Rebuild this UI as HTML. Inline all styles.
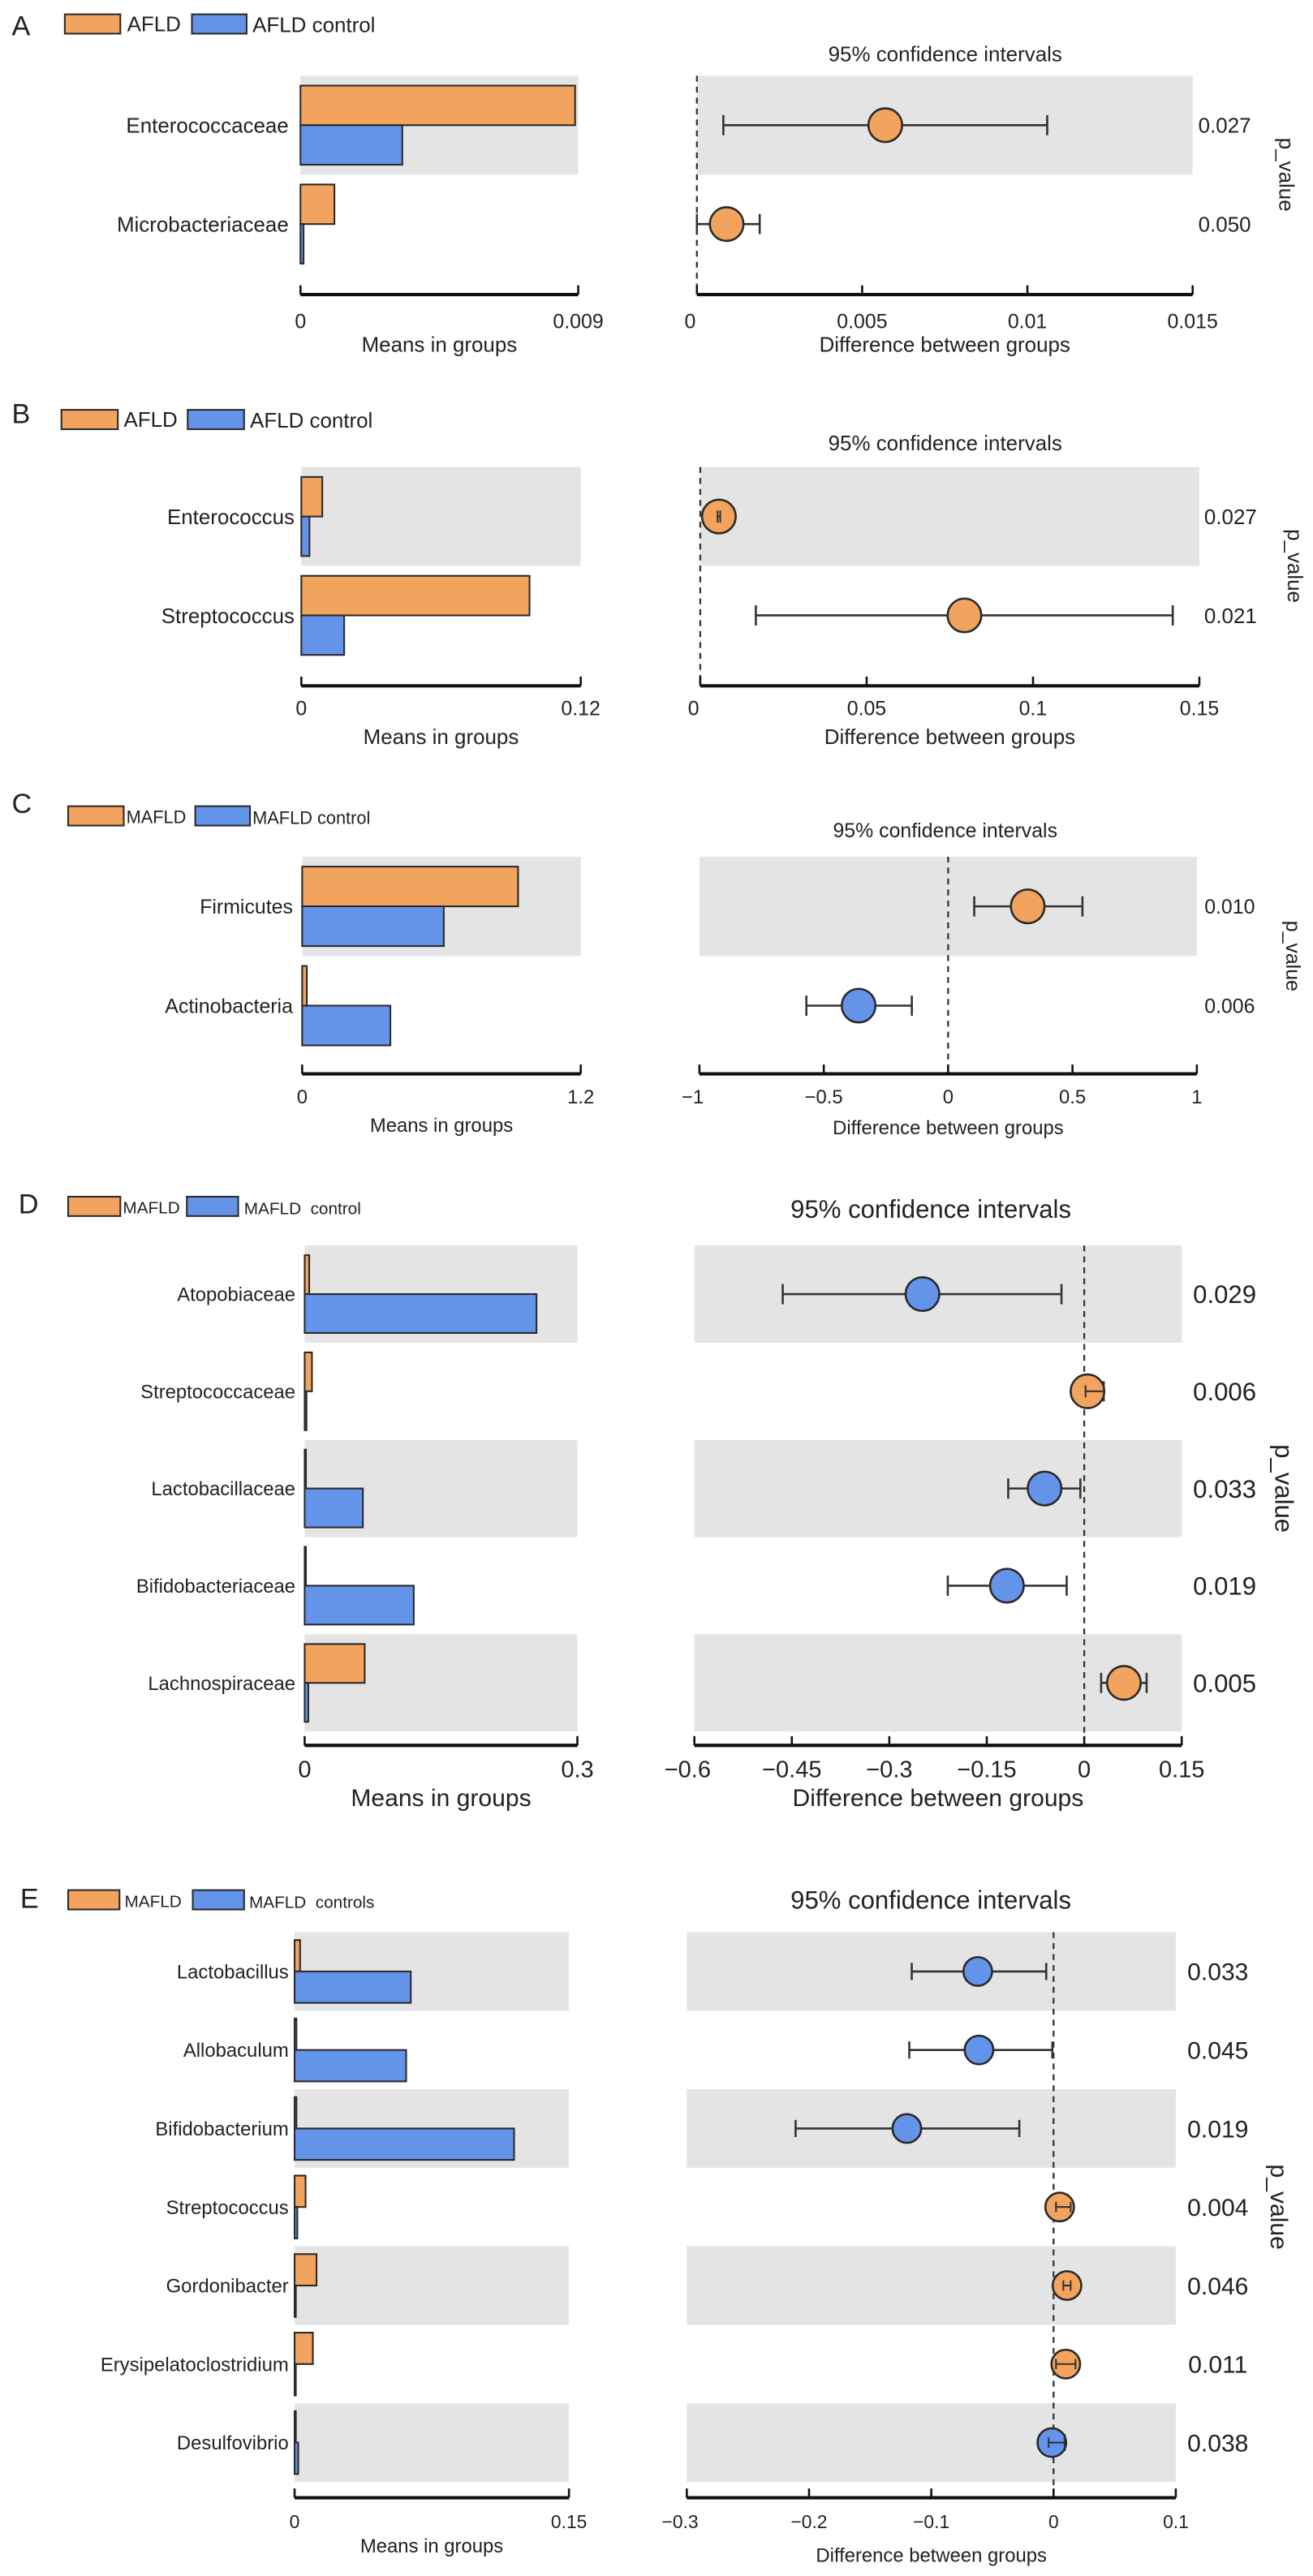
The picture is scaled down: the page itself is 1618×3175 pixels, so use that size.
<!DOCTYPE html>
<html><head><meta charset="utf-8"><style>
html,body{margin:0;padding:0;background:#fff}
svg{display:block}
text{font-family:"Liberation Sans",Arial,sans-serif;fill:#222}
</style></head><body>
<svg id="fig" width="1618" height="3175" viewBox="0 0 1560 3061" preserveAspectRatio="none" xmlns="http://www.w3.org/2000/svg">
<g>
<text x="14" y="42" font-size="33">A</text>
<text x="14" y="503" font-size="33">B</text>
<text x="14" y="966" font-size="33">C</text>
<text x="22" y="1442" font-size="33">D</text>
<text x="24" y="2267" font-size="33">E</text>
</g>
</svg>
<script>
// ---- Panel A data ----
const aCats=["Enterococcaceae","Microbacteriaceae"];
const aCase=[0.0089,0.0011];
const aCtrl=[0.0033,0.0001];
const aDiff=[0.0057,0.0009];
const aLo=[0.0008,0.0];
const aHi=[0.0106,0.0019];
const aP=["0.027","0.050"];
const aMeanTicks=[0,0.009];
const aMeanTickLabels=["0","0.009"];
const aDiffTicks=[0,0.005,0.01,0.015];
const aDiffTickLabels=["0","0.005","0.01","0.015"];
// ---- Panel B data ----
const bCats=["Enterococcus","Streptococcus"];
const bCase=[0.009,0.098];
const bCtrl=[0.0035,0.0184];
const bDiff=[0.0056,0.0794];
const bLo=[0.0052,0.0167];
const bHi=[0.006,0.142];
const bP=["0.027","0.021"];
const bMeanTicks=[0,0.12];
const bMeanTickLabels=["0","0.12"];
const bDiffTicks=[0,0.05,0.1,0.15];
const bDiffTickLabels=["0","0.05","0.1","0.15"];
// ---- Panel C data ----
const cCats=["Firmicutes","Actinobacteria"];
const cCase=[0.93,0.02];
const cCtrl=[0.61,0.38];
const cDiff=[0.32,-0.36];
const cLo=[0.105,-0.57];
const cHi=[0.54,-0.146];
const cP=["0.010","0.006"];
const cMeanTicks=[0,1.2];
const cMeanTickLabels=["0","1.2"];
const cDiffTicks=[-1,-0.5,0,0.5,1];
const cDiffTickLabels=["\u22121","\u22120.5","0","0.5","1"];
// ---- Panel D data ----
const dCats=["Atopobiaceae","Streptococcaceae","Lactobacillaceae","Bifidobacteriaceae","Lachnospiraceae"];
const dCase=[0.005,0.008,0.001,0.001,0.066];
const dCtrl=[0.255,0.002,0.064,0.12,0.004];
const dDiff=[-0.249,0.005,-0.061,-0.119,0.061];
const dLo=[-0.464,0.002,-0.117,-0.21,0.026];
const dHi=[-0.035,0.03,-0.006,-0.027,0.096];
const dP=["0.029","0.006","0.033","0.019","0.005"];
const dMeanTicks=[0,0.3];
const dMeanTickLabels=["0","0.3"];
const dDiffTicks=[-0.6,-0.45,-0.3,-0.15,0,0.15];
const dDiffTickLabels=["\u22120.6","\u22120.45","\u22120.3","\u22120.15","0","0.15"];
// ---- Panel E data ----
const eCats=["Lactobacillus","Allobaculum","Bifidobacterium","Streptococcus","Gordonibacter","Erysipelatoclostridium","Desulfovibrio"];
const eCase=[0.003,0.001,0.001,0.006,0.012,0.010,0.0003];
const eCtrl=[0.0635,0.061,0.12,0.0015,0.0005,0.0003,0.002];
const eDiff=[-0.062,-0.061,-0.12,0.005,0.011,0.010,-0.0014];
const eLo=[-0.116,-0.118,-0.211,0.002,0.008,0.002,-0.004];
const eHi=[-0.006,-0.001,-0.028,0.014,0.014,0.018,0.009];
const eP=["0.033","0.045","0.019","0.004","0.046","0.011","0.038"];
const eMeanTicks=[0,0.15];
const eMeanTickLabels=["0","0.15"];
const eDiffTicks=[-0.3,-0.2,-0.1,0,0.1];
const eDiffTickLabels=["\u22120.3","\u22120.2","\u22120.1","0","0.1"];

const NS="http://www.w3.org/2000/svg";
const svg=document.getElementById('fig');
const ORANGE="#F2A35E",BLUE="#6494EA",BAND="#e4e4e4",STROKE="#2a2a2a";
function mk(parent,tag,attrs,txt){const e=document.createElementNS(NS,tag);for(const k in attrs)e.setAttribute(k,attrs[k]);if(txt!==undefined)e.textContent=txt;parent.appendChild(e);return e;}

function panel(id,L,cats,cs,ct,diff,lo,hi,pv,mT,mTL,dT,dTL){
  const g=mk(svg,'g',{});
  
  
  const n=cats.length,h=L.rowH;
  const xL=v=>L.lx0+v/mT[mT.length-1]*(L.lx1-L.lx0);
  const xR=v=>L.rx0+(v-dT[0])/(dT[dT.length-1]-dT[0])*(L.rx1-L.rx0);
  const yC=i=>L.top+h*i+h/2;
  // legend
  let e=mk(g,'rect',{x:L.leg[0],y:L.legY,width:L.leg[1]-L.leg[0],height:23,fill:ORANGE,stroke:STROKE,'stroke-width':2});
  
  
  e=mk(g,'text',{x:L.leg[2],y:L.legY+20,'font-size':L.legFs},L.legT[0]);
  
  
  e=mk(g,'rect',{x:L.leg[3],y:L.legY,width:L.leg[4]-L.leg[3],height:23,fill:BLUE,stroke:STROKE,'stroke-width':2});
  
  
  e=mk(g,'text',{x:L.leg[5],y:L.legY+21,'font-size':L.legFs,style:'white-space:pre'},L.legT[1]);
  
  
  // CI title
  e=mk(g,'text',{x:L.ciX,y:L.ciY,'font-size':L.ciFs,'text-anchor':'middle'},'95% confidence intervals');
  
  
  // bands
  for(let i=0;i<n;i+=2){
    e=mk(g,'rect',{x:L.lx0,y:L.top+h*i,width:L.lx1-L.lx0,height:h,fill:BAND});
    
    
    e=mk(g,'rect',{x:L.rx0,y:L.top+h*i,width:L.rx1-L.rx0,height:h,fill:BAND});
    
    
  }
  // zero dashed line
  e=mk(g,'line',{x1:xR(0),x2:xR(0),y1:L.top,y2:L.axY-4,stroke:'#333','stroke-width':2.2,'stroke-dasharray':'7,6'});
  
  
  for(let i=0;i<n;i++){
    const yc=yC(i),bh=h*0.4;
    e=mk(g,'text',{x:L.labX,y:yc+L.fs*0.36,'font-size':L.fs,'text-anchor':'end'},cats[i]);
    
    
    e=mk(g,'rect',{x:L.lx0,y:yc-bh,width:Math.max(xL(cs[i])-L.lx0,1.5),height:bh,fill:ORANGE,stroke:STROKE,'stroke-width':2});
    
    
    e=mk(g,'rect',{x:L.lx0,y:yc,width:Math.max(xL(ct[i])-L.lx0,1.5),height:bh,fill:BLUE,stroke:STROKE,'stroke-width':2});
    
    
    const cap=L.r*0.6;
    e=mk(g,'line',{x1:xR(lo[i]),x2:xR(hi[i]),y1:yc,y2:yc,stroke:'#333','stroke-width':2.5});
    
    
    e=mk(g,'line',{x1:xR(lo[i]),x2:xR(lo[i]),y1:yc-cap,y2:yc+cap,stroke:'#333','stroke-width':2.5});
    
    
    e=mk(g,'line',{x1:xR(hi[i]),x2:xR(hi[i]),y1:yc-cap,y2:yc+cap,stroke:'#333','stroke-width':2.5});
    
    
    e=mk(g,'circle',{cx:xR(diff[i]),cy:yc,r:L.r,fill:diff[i]>=0?ORANGE:BLUE,stroke:STROKE,'stroke-width':2.5});
    
    
    if(hi[i]-lo[i]<0.05*(dT[dT.length-1]-dT[0])){
      e=mk(g,'line',{x1:xR(lo[i]),x2:xR(hi[i]),y1:yc,y2:yc,stroke:'#333','stroke-width':2});
      
      
      e=mk(g,'line',{x1:xR(lo[i]),x2:xR(lo[i]),y1:yc-cap*0.6,y2:yc+cap*0.6,stroke:'#333','stroke-width':2});
      
      
      e=mk(g,'line',{x1:xR(hi[i]),x2:xR(hi[i]),y1:yc-cap*0.6,y2:yc+cap*0.6,stroke:'#333','stroke-width':2});
      
      
    }
    e=mk(g,'text',{x:L.pX,y:yc+L.pFs*0.36,'font-size':L.pFs,'text-anchor':'middle'},pv[i]);
    
    
  }
  // p_value title
  const pvy=L.top+h*n/2;
  e=mk(g,'text',{x:L.pvX,y:pvy,'font-size':L.pFs,'text-anchor':'middle',transform:`rotate(90 ${L.pvX} ${pvy})`},'p_value');
  
  
  // axes
  e=mk(g,'line',{x1:L.lx0,x2:L.lx1,y1:L.axY,y2:L.axY,stroke:'#111','stroke-width':4});
  
  
  mT.forEach((t,k)=>{
    let q=mk(g,'line',{x1:xL(t),x2:xL(t),y1:L.axY-11,y2:L.axY,stroke:'#111','stroke-width':2.5});
    
    
    q=mk(g,'text',{x:xL(t),y:L.axY+L.tkOff,'font-size':L.tkFs,'text-anchor':'middle'},mTL[k]);
    
    
  });
  e=mk(g,'text',{x:(L.lx0+L.lx1)/2,y:L.axY+L.tiOff,'font-size':L.tiFs,'text-anchor':'middle'},'Means in groups');
  
  
  e=mk(g,'line',{x1:L.rx0,x2:L.rx1,y1:L.axY,y2:L.axY,stroke:'#111','stroke-width':4});
  
  
  dT.forEach((t,k)=>{
    let q=mk(g,'line',{x1:xR(t),x2:xR(t),y1:L.axY-11,y2:L.axY,stroke:'#111','stroke-width':2.5});
    
    
    q=mk(g,'text',{x:xR(t)-(k===0?8:0),y:L.axY+L.tkOff,'font-size':L.tkFs,'text-anchor':'middle'},dTL[k]);
    
    
  });
  e=mk(g,'text',{x:(L.rx0+L.rx1)/2,y:L.axY+L.tiOff2,'font-size':L.tiFs2,'text-anchor':'middle'},'Difference between groups');
  
  
}

panel('a',{top:90,rowH:117.5,lx0:357,lx1:687,rx0:828,rx1:1417,axY:350,labX:343,fs:25,r:20,pX:1455,pFs:25,pvX:1520,
  leg:[77,143,151,228,293,300],legY:17,legFs:25,legT:["AFLD","AFLD control"],ciX:1123,ciY:73,ciFs:25,
  tkOff:40,tkFs:24,tiOff:68,tiFs:25,tiOff2:68,tiFs2:25},
  aCats,aCase,aCtrl,aDiff,aLo,aHi,aP,aMeanTicks,aMeanTickLabels,aDiffTicks,aDiffTickLabels);
panel('b',{top:555,rowH:117.5,lx0:358,lx1:690,rx0:832,rx1:1425,axY:815,labX:350,fs:25,r:20,pX:1462,pFs:25,pvX:1530,
  leg:[73,140,147,223,290,297],legY:487,legFs:25,legT:["AFLD","AFLD control"],ciX:1123,ciY:535,ciFs:25,
  tkOff:35,tkFs:24,tiOff:69,tiFs:25,tiOff2:69,tiFs2:25},
  bCats,bCase,bCtrl,bDiff,bLo,bHi,bP,bMeanTicks,bMeanTickLabels,bDiffTicks,bDiffTickLabels);
panel('c',{top:1018,rowH:118,lx0:359,lx1:690,rx0:831,rx1:1422,axY:1276,labX:348,fs:24,r:20,pX:1461,pFs:24,pvX:1528,
  leg:[81,147,150,232,297,300],legY:958,legFs:21,legT:["MAFLD","MAFLD control"],ciX:1123,ciY:995,ciFs:24,
  tkOff:35,tkFs:23,tiOff:69,tiFs:23,tiOff2:72,tiFs2:23},
  cCats,cCase,cCtrl,cDiff,cLo,cHi,cP,cMeanTicks,cMeanTickLabels,cDiffTicks,cDiffTickLabels);
panel('d',{top:1480,rowH:115.5,lx0:362,lx1:686,rx0:825,rx1:1404,axY:2074,labX:351,fs:23,r:20,pX:1455,pFs:30,pvX:1515,
  leg:[81,143,146,222,283,290],legY:1422,legFs:20,legT:["MAFLD","MAFLD  control"],ciX:1106,ciY:1447,ciFs:30,
  tkOff:38,tkFs:28,tiOff:72,tiFs:29,tiOff2:72,tiFs2:29},
  dCats,dCase,dCtrl,dDiff,dLo,dHi,dP,dMeanTicks,dMeanTickLabels,dDiffTicks,dDiffTickLabels);
panel('e',{top:2296,rowH:93.3,lx0:350,lx1:676,rx0:816,rx1:1397,axY:2968,labX:343,fs:23,r:17,pX:1447,pFs:29,pvX:1510,
  leg:[81,142,148,229,290,296],legY:2246,legFs:20,legT:["MAFLD","MAFLD  controls"],ciX:1106,ciY:2268,ciFs:30,
  tkOff:36,tkFs:22,tiOff:65,tiFs:23,tiOff2:76,tiFs2:23},
  eCats,eCase,eCtrl,eDiff,eLo,eHi,eP,eMeanTicks,eMeanTickLabels,eDiffTicks,eDiffTickLabels);
</script>
</body></html>
